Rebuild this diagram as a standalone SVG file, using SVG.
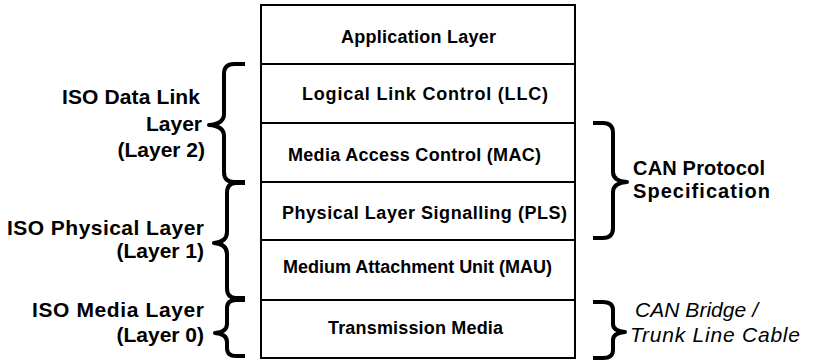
<svg xmlns="http://www.w3.org/2000/svg" width="813" height="361" viewBox="0 0 813 361">
<style>
.layer{fill:#fff;stroke:#000;stroke-width:2}
.lt{font-family:"Liberation Sans",Arial,sans-serif;font-weight:bold;font-size:18px;fill:#000;text-anchor:middle}
.side{font-family:"Liberation Sans",Arial,sans-serif;font-weight:bold;font-size:21px;fill:#000}
.rt{font-family:"Liberation Sans",Arial,sans-serif;font-weight:bold;font-size:20px;fill:#000}
.it{font-family:"Liberation Sans",Arial,sans-serif;font-style:italic;font-size:21px;fill:#000}
.brace{fill:none;stroke:#000;stroke-width:4;stroke-linejoin:round}
</style>
<rect width="813" height="361" fill="#fff"/>
<g id="app"><rect class="layer" x="261" y="5" width="314" height="59"/><text class="lt" x="418.5" y="43" textLength="155" lengthAdjust="spacing">Application Layer</text></g>
<g id="llc"><rect class="layer" x="261" y="64" width="314" height="59"/><text class="lt" x="425" y="100" textLength="246" lengthAdjust="spacing">Logical Link Control (LLC)</text></g>
<g id="mac"><rect class="layer" x="261" y="123" width="314" height="59"/><text class="lt" x="414.5" y="161" textLength="253" lengthAdjust="spacing">Media Access Control (MAC)</text></g>
<g id="pls"><rect class="layer" x="261" y="182" width="314" height="58"/><text class="lt" x="424.5" y="219" textLength="285" lengthAdjust="spacing">Physical Layer Signalling (PLS)</text></g>
<g id="mau"><rect class="layer" x="261" y="240" width="314" height="60"/><text class="lt" x="417.5" y="273" textLength="269" lengthAdjust="spacing">Medium Attachment Unit (MAU)</text></g>
<g id="media"><rect class="layer" x="261" y="300" width="314" height="58"/><text class="lt" x="415.5" y="334" textLength="175" lengthAdjust="spacing">Transmission Media</text></g>
<g id="connectors">
<path class="brace" d="M245,64 H234 Q224,64 224,74 V114 Q224,124 209,125 Q224,126 224,136 V172 Q224,182 234,182 H245"/>
<path class="brace" d="M245,183 H236 Q227,183 227,193 V232 Q227,242 214,243 Q227,244 227,254 V288 Q227,298 236,298 H245"/>
<path class="brace" d="M245,300 H236 Q227,300 227,308 V324 Q227,332 215,333 Q227,334 227,342 V348 Q227,356 236,356 H245"/>
<path class="brace" d="M593,123 H603 Q613,123 613,133 V172 Q613,181 627,182 Q613,183 613,192 V228 Q613,238 603,238 H593"/>
<path class="brace" d="M593,302 H603 Q613,302 613,310 V324 Q613,331 625,332 Q613,333 613,340 V350 Q613,358 603,358 H593"/>
</g>
<g id="label-datalink">
<text class="side" x="62" y="104" textLength="138" lengthAdjust="spacing">ISO Data Link</text>
<text class="side" x="202" y="131" text-anchor="end">Layer</text>
<text class="side" x="205" y="157" text-anchor="end">(Layer 2)</text>
</g>
<g id="label-physical">
<text class="side" x="7" y="235" textLength="197" lengthAdjust="spacing">ISO Physical Layer</text>
<text class="side" x="204" y="258" text-anchor="end">(Layer 1)</text>
</g>
<g id="label-media">
<text class="side" x="32" y="317" textLength="172" lengthAdjust="spacing">ISO Media Layer</text>
<text class="side" x="204" y="342" text-anchor="end">(Layer 0)</text>
</g>
<g id="label-can">
<text class="rt" x="633" y="175" textLength="132" lengthAdjust="spacing">CAN Protocol</text>
<text class="rt" x="633" y="198" textLength="137" lengthAdjust="spacing">Specification</text>
</g>
<g id="label-bridge">
<text class="it" x="635" y="317" textLength="123" lengthAdjust="spacing">CAN Bridge /</text>
<text class="it" x="630" y="342" textLength="170" lengthAdjust="spacing">Trunk Line Cable</text>
</g>
</svg>
